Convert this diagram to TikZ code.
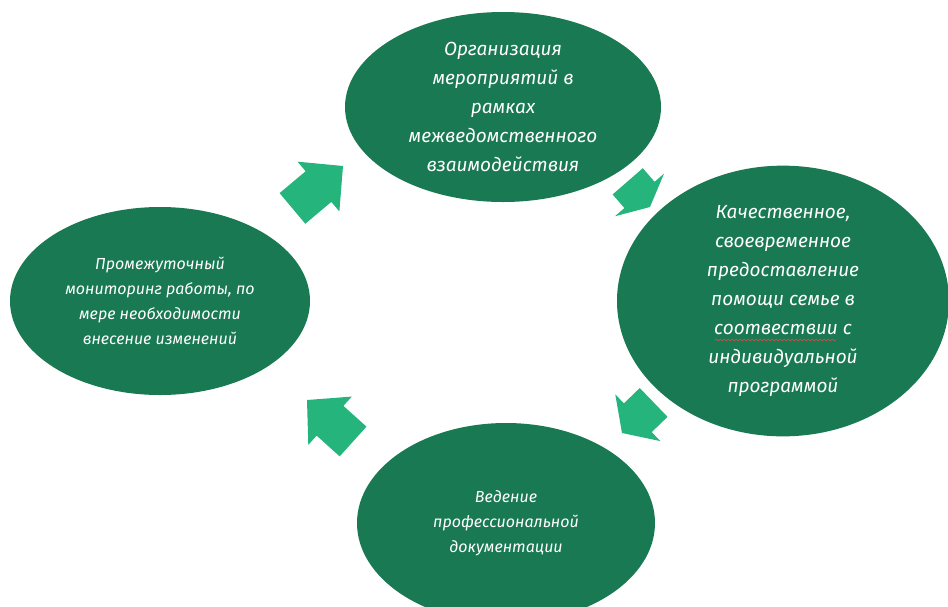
\documentclass[tikz,border=0pt]{standalone}
\usepackage{fontspec}
\setmainfont{Fira Sans}
\usetikzlibrary{shapes.geometric,decorations.pathmorphing}
\tikzset{>=stealth}
\definecolor{bubblegreen}{RGB}{25,121,82}
\definecolor{arrowgreen}{RGB}{36,180,124}
\definecolor{typored}{RGB}{192,80,77}
\tikzset{
  bubble/.style={ellipse,fill=bubblegreen,inner sep=0pt,text=white,align=center,
    font=\itshape\fontsize{19}{29}\selectfont},
  smallbubble/.style={bubble,font=\itshape\fontsize{16}{25}\selectfont},
  blockarrow/.style={fill=arrowgreen,draw=none},
  typowave/.style={typored,line width=0.8pt,decorate,decoration={snake,amplitude=0.8pt,segment length=4pt}}
}

\begin{document}
\begin{tikzpicture}[x=1pt,y=-1pt]
\clip (0,0) rectangle (948,606);
\node[bubble,minimum width=316pt,minimum height=190pt] (org) at (503,107)
  {Организация\\мероприятий в\\рамках\\межведомственного\\взаимодействия};
\node[bubble,minimum width=332pt,minimum height=222pt] (help) at (783,301)
  {Качественное,\\своевременное\\предоставление\\помощи семье в\\соотвествии с\\индивидуальной\\программой};
\node[smallbubble,minimum width=298pt,minimum height=200pt] (docs) at (506,523)
  {Ведение\\профессиональной\\документации};
\node[smallbubble,minimum width=300pt,minimum height=188pt] (monitor) at (160,301)
  {Промежуточный\\мониторинг работы, по\\мере необходимости\\внесение изменений};
\draw[typowave] (715,340) -- (836,340);
\draw[blockarrow,shift={(343,166)},rotate=40] (0,0) -- (-32,32.5) -- (-32,20) -- (-66,20) -- (-66,-20) -- (-32,-20) -- (-32,-32.5) -- cycle;
\draw[blockarrow,shift={(650,207)},rotate=-49] (0,0) -- (-16,32.5) -- (-16,20) -- (-34,20) -- (-34,-20) -- (-16,-20) -- (-16,-32.5) -- cycle;
\draw[blockarrow,shift={(622,433)},rotate=224] (0,0) -- (-22,32.5) -- (-22,20) -- (-44,20) -- (-44,-20) -- (-22,-20) -- (-22,-32.5) -- cycle;
\draw[blockarrow,shift={(307,400)},rotate=138] (0,0) -- (-31,32.5) -- (-31,20) -- (-62,20) -- (-62,-20) -- (-31,-20) -- (-31,-32.5) -- cycle;
\end{tikzpicture}
\end{document}
